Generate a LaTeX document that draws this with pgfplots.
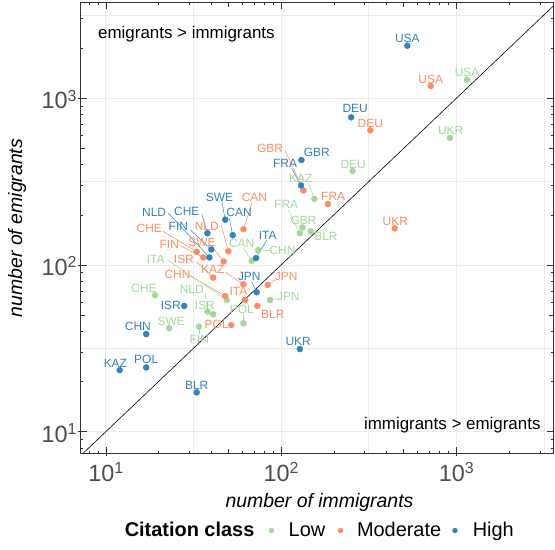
\documentclass[border=0pt]{standalone}
\usepackage{fontspec}
\setmainfont{Liberation Sans}
\usepackage{pgfplots}
\usepackage{pgfplotstable}
\pgfplotsset{compat=1.18}
\definecolor{low}{HTML}{A1D99B}
\definecolor{mod}{HTML}{FC8D62}
\definecolor{high}{HTML}{3182BD}
\definecolor{gridc}{HTML}{EBEBEB}
\definecolor{tickc}{HTML}{4D4D4D}
\definecolor{framec}{HTML}{333333}

\newcommand{\tl}[1]{10\raisebox{7.7bp}{\fontsize{16}{16}\selectfont #1}}

% x = immigrants, y = emigrants, dx/dy = label offset (bp)
\pgfplotstableread{
x y lab dx dy
525 2068 USA 0 7.4
251 769 DEU 4 8.6
130.6 426 GBR 15.4 7.3
130 300 FRA -16 22
48 187 SWE -5.7 22.4
53 151 CAN 6.3 22.7
72 110 ITA 11.7 23
38 155 CHE -20.6 21.6
40 124 FIN -33 23
39 111 NLD -55.3 45
72.6 68.6 JPN -7.4 15.6
28 56.8 ISR -13.3 0.3
17 38.5 CHN -8.3 7.3
128 31.3 UKR -1.7 7.3
12 23.4 KAZ -4.3 6.7
17 24.3 POL 0 8
33 17.2 BLR 0 7.3
}\highdata

\pgfplotstableread{
x y lab dx dy
714 1186 USA 0 7
323 643 DEU 0 6.6
134 280 GBR -33.3 42
185 232 FRA 5.3 7.3
445 166 UKR 0.6 6.6
61 164 CAN 11 32
33 120 CHE -47.4 23.4
36 111 FIN -34 13.4
47 105 SWE -21.6 19
50 121 NLD -21.6 25.3
41 84 ISR -29.3 18
61 76.6 KAZ -30.6 15
48 65.2 CHN -47.7 22
62.4 61.7 ITA -6.7 8.3
84 75.9 JPN 18.3 8.3
73.3 56.8 BLR 15.4 -8
52 43.6 POL -14.6 0.7
}\moddata

\pgfplotstableread{
x y lab dx dy
1151 1293 USA 0 7
920 578 UKR 0.7 7.3
256 366 DEU 0.6 7
155 249 KAZ -13.6 20.7
128 155 FRA -13.7 29
132.5 168 GBR 1 6.6
147.5 159 BLR 15.3 -5.4
68 106 CAN -10 17.4
74 123 CHN 24.4 -0.7
49 61.7 ITA -71 40.7
19.1 65.8 CHE -11 6.6
38 52.5 NLD -15.6 22.4
41 50.6 ISR -8.3 9.3
61 44.7 POL -1.6 14.3
86.5 61.7 JPN 18.3 3.3
23 41.7 SWE 2 6.6
34 42.7 FIN 0.3 -12.3
}\lowdata

\pgfplotsset{
  lbl/.style={only marks, mark=*, mark size=3bp,
    mark options={draw=#1, fill=#1}, color=#1,
    nodes near coords, point meta=explicit symbolic,
    visualization depends on={\thisrow{dx}\as\lbldx},
    visualization depends on={\thisrow{dy}\as\lbldy},
    every node near coord/.append style={anchor=center, inner sep=0pt,
      xshift=\lbldx bp, yshift=\lbldy bp,
      font=\fontsize{12}{12}\selectfont, text=#1}},
}

\begin{document}
\begin{tikzpicture}[x=1bp,y=1bp]
\useasboundingbox (0,0) rectangle (555,550);
\begin{axis}[
  at={(80.7bp,96.7bp)}, anchor=south west,
  scale only axis, width=472.3bp, height=450.6bp,
  xmode=log, ymode=log,
  xmin=7.19, xmax=3562, ymin=7.42, ymax=3746,
  clip=false,
  axis line style={framec, line width=0.7bp},
  tick align=inside,
  xtick={10,100,1000}, ytick={10,100,1000},
  xticklabels={\tl{1},\tl{2},\tl{3}},
  yticklabels={\tl{1},\tl{2},\tl{3}},
  minor xtick={31.62,316.2,3162}, minor ytick={31.62,316.2,3162},
  grid=both,
  major grid style={gridc, line width=0.75bp},
  minor grid style={gridc, line width=0.5bp},
  major tick length=6.5bp, minor tick length=0pt,
  tick style={framec, line width=0.55bp},
  extra x ticks={8,9,20,30,40,50,60,70,80,90,200,300,400,500,600,700,800,900,2000,3000},
  extra y ticks={8,9,20,30,40,50,60,70,80,90,200,300,400,500,600,700,800,900,2000,3000},
  extra x tick labels={}, extra y tick labels={},
  extra tick style={grid=none, major tick length=2.5bp},
  xticklabel style={font=\fontsize{23.5}{23.5}\selectfont, text=tickc, inner sep=0pt, anchor=north, yshift=-9.2bp},
  yticklabel style={font=\fontsize{23.5}{23.5}\selectfont, text=tickc, inner sep=0pt, anchor=east, xshift=-4bp, yshift=-1.35bp},
]
% medium log ticks (5s) on all sides and outside axis ticks
\pgfplotsinvokeforeach{50,500}{
  \draw[framec, line width=0.55bp] (axis cs:#1,7.42) -- ++(0pt,4.5bp);
  \draw[framec, line width=0.55bp] (axis cs:#1,3746) -- ++(0pt,-4.5bp);
  \draw[framec, line width=0.55bp] (axis cs:7.19,#1) -- ++(4.5bp,0pt);
  \draw[framec, line width=0.55bp] (axis cs:3562,#1) -- ++(-4.5bp,0pt);
}
\pgfplotsinvokeforeach{10,100,1000}{
  \draw[framec, line width=0.55bp] (axis cs:#1,7.42) -- ++(0pt,-2.7bp);
  \draw[framec, line width=0.55bp] (axis cs:7.19,#1) -- ++(-2.7bp,0pt);
}
\addplot[black, line width=0.6bp, no marks] coordinates {(7.42,7.42) (3562,3562)};

% repel segments
\begin{scope}[line width=0.5bp]
\draw[high] (axis cs:130,300) -- ++(-9.3bp,17bp);
\draw[high] (axis cs:48,187) -- ++(-3.3bp,18bp);
\draw[high] (axis cs:53,151) -- ++(-3.4bp,16.7bp);
\draw[high] (axis cs:72,110) -- ++(10.7bp,18bp);
\draw[high] (axis cs:38,155) -- ++(-5.6bp,19.3bp);
\draw[high] (axis cs:40,124) -- ++(-21.3bp,19.7bp);
\draw[high] (axis cs:39,111) -- ++(-41bp,44.4bp);
\draw[high] (axis cs:72.6,68.6) -- ++(-5bp,10.6bp);
\draw[mod] (axis cs:134,280) -- ++(-18.3bp,40.3bp);
\draw[mod] (axis cs:61,164) -- ++(8.4bp,26bp);
\draw[mod] (axis cs:33,120) -- ++(-33.7bp,20.7bp);
\draw[mod] (axis cs:36,111) -- ++(-22.8bp,11.7bp);
\draw[mod] (axis cs:47,105) -- ++(-11.3bp,14.7bp);
\draw[mod] (axis cs:50,121) -- ++(-7.3bp,27bp);
\draw[mod] (axis cs:41,84) -- ++(-17.3bp,16.3bp);
\draw[mod] (axis cs:61,76.6) -- ++(-18.3bp,12.3bp);
\draw[mod] (axis cs:48,65.2) -- ++(-35bp,20bp);
\draw[mod] (axis cs:84,75.9) -- ++(7.3bp,5bp);
\draw[low] (axis cs:155,249) -- ++(-6bp,15.7bp);
\draw[low] (axis cs:128,155) -- ++(-11.4bp,23.3bp);
\draw[low] (axis cs:68,106) -- ++(-8.4bp,12.4bp);
\draw[low] (axis cs:74,123) -- ++(11.7bp,-0.7bp);
\draw[low] (axis cs:49,61.7) -- ++(-59.4bp,40bp);
\draw[low] (axis cs:38,52.5) -- ++(-2.3bp,18.4bp);
\draw[low] (axis cs:61,44.7) -- ++(0bp,8.8bp);
\draw[low] (axis cs:86.5,61.7) -- ++(8bp,1bp);
\draw[low] (axis cs:34,42.7) -- ++(0bp,-7bp);
\end{scope}

\addplot[lbl=low] table[x=x, y=y, meta=lab] {\lowdata};
\addplot[lbl=mod] table[x=x, y=y, meta=lab] {\moddata};
\addplot[lbl=high] table[x=x, y=y, meta=lab] {\highdata};
\end{axis}

% corner annotations
\node[anchor=base west, inner sep=0pt, font=\fontsize{17}{17}\selectfont] at (98,511.5) {emigrants > immigrants};
\node[anchor=base east, inner sep=0pt, font=\fontsize{17}{17}\selectfont] at (540.7,120) {immigrants > emigrants};

% axis titles
\node[anchor=base, inner sep=0pt, font=\fontsize{19.5}{19.5}\selectfont\itshape] at (319.5,42) {number of immigrants};
\node[anchor=base, inner sep=0pt, rotate=90, font=\fontsize{19.5}{19.5}\selectfont\itshape] at (22,322) {number of emigrants};

% legend
\node[anchor=base west, inner sep=0pt, font=\fontsize{20}{20}\selectfont\bfseries] at (124.6,13.3) {Citation class};
\fill[low] (271.5,19.5) circle (2.7bp);
\node[anchor=base west, inner sep=0pt, font=\fontsize{20}{20}\selectfont] at (288.5,13.3) {Low};
\fill[mod] (340.5,19.5) circle (2.7bp);
\node[anchor=base west, inner sep=0pt, font=\fontsize{20}{20}\selectfont] at (356.8,13.3) {Moderate};
\fill[high] (455,19.5) circle (2.7bp);
\node[anchor=base west, inner sep=0pt, font=\fontsize{20}{20}\selectfont] at (472.6,13.3) {High};
\end{tikzpicture}
\end{document}
